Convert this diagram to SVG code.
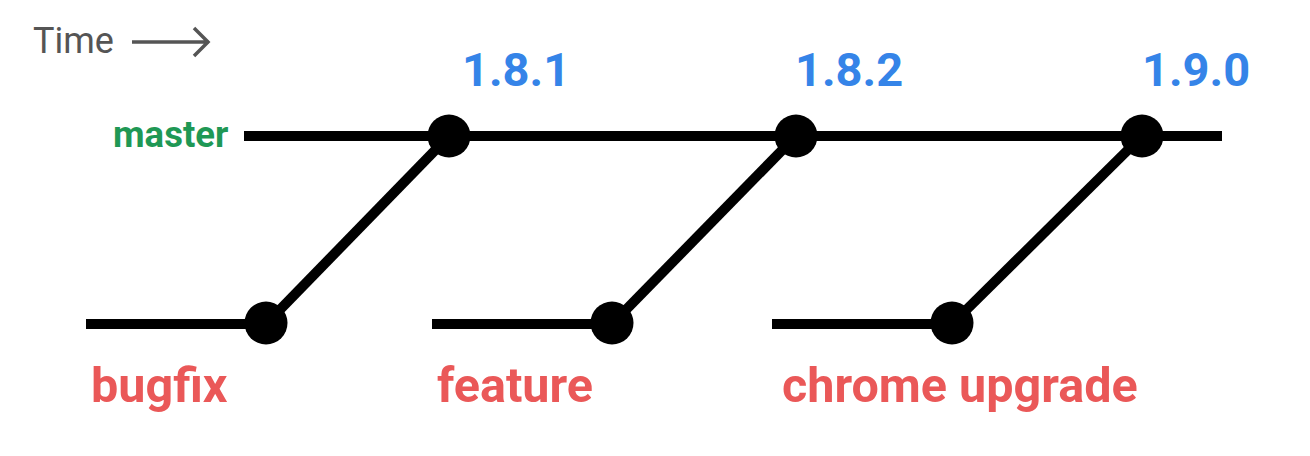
<svg xmlns="http://www.w3.org/2000/svg" width="1310" height="456" viewBox="0 0 1310 456">
<style>
.edge{stroke:#000;stroke-width:10;fill:none}
.commit{fill:#000}
.ver{font-family:Roboto,"Liberation Sans",sans-serif;font-weight:700;font-size:47px;fill:#3584e8}
.br{font-family:Roboto,"Liberation Sans",sans-serif;font-weight:700;font-size:48.5px;fill:#ea5858}
.master{font-family:Roboto,"Liberation Sans",sans-serif;font-weight:700;font-size:36.5px;fill:#1f9855}
.time{font-family:Roboto,"Liberation Sans",sans-serif;font-size:36px;fill:#555}
</style>
<rect width="1310" height="456" fill="#fff"/>
<g id="time">
<text class="time" x="33" y="53">Time</text>
<path d="M132 42H209M194 28L208 42L194 56" stroke="#555" stroke-width="3.5" fill="none"/>
</g>
<g id="connectors">
<line class="edge" x1="244" y1="136" x2="1222" y2="136"/>
<line class="edge" x1="86" y1="324" x2="266" y2="324"/>
<line class="edge" x1="432" y1="324" x2="612" y2="324"/>
<line class="edge" x1="772" y1="324" x2="952" y2="324"/>
<line class="edge" x1="266" y1="324" x2="449" y2="136"/>
<line class="edge" x1="612" y1="324" x2="796" y2="136"/>
<line class="edge" x1="952" y1="324" x2="1142" y2="136"/>
</g>
<g id="master-label"><text class="master" x="113" y="147">master</text></g>
<g id="v181"><circle class="commit" cx="449" cy="136" r="21.5"/><text class="ver" x="462" y="86">1.8.1</text></g>
<g id="v182"><circle class="commit" cx="796" cy="136" r="21.5"/><text class="ver" x="795" y="86">1.8.2</text></g>
<g id="v190"><circle class="commit" cx="1142" cy="136" r="21.5"/><text class="ver" x="1142" y="86">1.9.0</text></g>
<g id="bugfix"><circle class="commit" cx="266" cy="323" r="21.5"/><text class="br" x="91" y="402">bugfix</text></g>
<g id="feature"><circle class="commit" cx="612" cy="323" r="21.5"/><text class="br" x="437" y="402">feature</text></g>
<g id="chrome"><circle class="commit" cx="952" cy="323" r="21.5"/><text class="br" x="782" y="402">chrome upgrade</text></g>
</svg>
